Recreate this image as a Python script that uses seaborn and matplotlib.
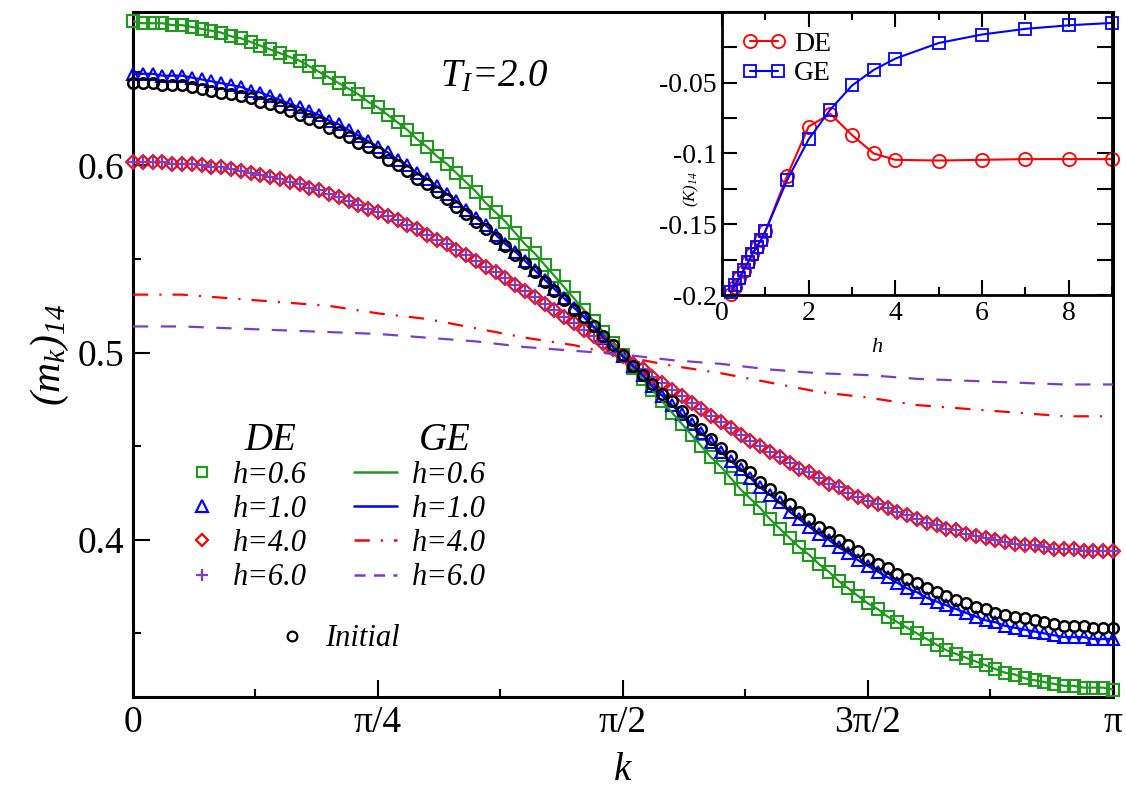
#!/usr/bin/env python
''' Magnetisation profile (m_k)_14 for DE and GE after the quench, T_I=2.0,
with the inset of (K)_14 against h.
'''

import numpy as np
import matplotlib
matplotlib.use('Agg')
import matplotlib.pyplot as plt
from matplotlib.lines import Line2D
from matplotlib.ticker import FixedLocator, FixedFormatter, MultipleLocator
import seaborn as sns

# ---- main panel data ----
k_de = np.linspace(0, np.pi, 101)
k_ge = np.linspace(0, np.pi, 21)

de_h06 = [0.677, 0.676, 0.676, 0.676, 0.675, 0.675, 0.674, 0.673, 0.672, 0.671,
          0.669, 0.668, 0.666, 0.664, 0.662, 0.660, 0.658, 0.656, 0.653, 0.650,
          0.647, 0.644, 0.641, 0.638, 0.634, 0.631, 0.627, 0.623, 0.619, 0.614,
          0.610, 0.605, 0.601, 0.596, 0.591, 0.586, 0.580, 0.575, 0.570, 0.564,
          0.558, 0.553, 0.547, 0.541, 0.535, 0.529, 0.523, 0.517, 0.511, 0.505,
          0.499,
          0.492, 0.486, 0.480, 0.474, 0.468, 0.462, 0.456, 0.450, 0.444, 0.439,
          0.433, 0.427, 0.422, 0.417, 0.411, 0.406, 0.401, 0.396, 0.392, 0.387,
          0.383, 0.378, 0.374, 0.370, 0.366, 0.363, 0.359, 0.356, 0.353, 0.350,
          0.347, 0.344, 0.341, 0.339, 0.337, 0.335, 0.333, 0.331, 0.329, 0.328,
          0.326, 0.325, 0.324, 0.323, 0.322, 0.322, 0.321, 0.321, 0.321, 0.320]

de_h10 = [0.649, 0.649, 0.649, 0.648, 0.648, 0.648, 0.647, 0.646, 0.645, 0.644,
          0.643, 0.642, 0.640, 0.639, 0.637, 0.635, 0.633, 0.631, 0.629, 0.627,
          0.624, 0.622, 0.619, 0.616, 0.613, 0.610, 0.607, 0.603, 0.600, 0.596,
          0.593, 0.589, 0.585, 0.581, 0.576, 0.572, 0.568, 0.563, 0.558, 0.554,
          0.549, 0.544, 0.539, 0.534, 0.529, 0.524, 0.519, 0.514, 0.508, 0.503,
          0.498,
          0.493, 0.488, 0.482, 0.477, 0.472, 0.467, 0.462, 0.457, 0.452, 0.447,
          0.442, 0.438, 0.433, 0.428, 0.424, 0.420, 0.415, 0.411, 0.407, 0.403,
          0.400, 0.396, 0.393, 0.389, 0.386, 0.383, 0.380, 0.377, 0.374, 0.372,
          0.369, 0.367, 0.365, 0.363, 0.361, 0.359, 0.357, 0.356, 0.354, 0.353,
          0.352, 0.351, 0.350, 0.349, 0.348, 0.348, 0.348, 0.347, 0.347, 0.347]

de_h40 = [0.602, 0.602, 0.602, 0.602, 0.601, 0.601, 0.601, 0.600, 0.599, 0.599,
          0.598, 0.597, 0.596, 0.595, 0.594, 0.593, 0.591, 0.590, 0.588, 0.587,
          0.585, 0.583, 0.581, 0.579, 0.577, 0.575, 0.573, 0.571, 0.568, 0.566,
          0.563, 0.560, 0.558, 0.555, 0.552, 0.549, 0.546, 0.543, 0.540, 0.536,
          0.533, 0.530, 0.526, 0.523, 0.519, 0.516, 0.512, 0.509, 0.505, 0.502,
          0.498,
          0.494, 0.491, 0.487, 0.484, 0.480, 0.477, 0.473, 0.470, 0.466, 0.463,
          0.460, 0.456, 0.453, 0.450, 0.447, 0.444, 0.441, 0.438, 0.436, 0.433,
          0.430, 0.428, 0.425, 0.423, 0.421, 0.419, 0.417, 0.415, 0.413, 0.411,
          0.409, 0.408, 0.406, 0.405, 0.403, 0.402, 0.401, 0.400, 0.399, 0.398,
          0.397, 0.397, 0.396, 0.395, 0.395, 0.395, 0.394, 0.394, 0.394, 0.394]

# the h=6.0 DE points lie right on top of the h=4.0 ones
de_h60 = list(de_h40)

initial = [0.644, 0.644, 0.644, 0.643, 0.643, 0.643, 0.642, 0.641, 0.640, 0.639,
           0.638, 0.637, 0.636, 0.634, 0.633, 0.631, 0.629, 0.627, 0.625, 0.623,
           0.620, 0.618, 0.615, 0.612, 0.610, 0.607, 0.603, 0.600, 0.597, 0.593,
           0.590, 0.586, 0.582, 0.578, 0.574, 0.570, 0.566, 0.561, 0.557, 0.552,
           0.548, 0.543, 0.538, 0.533, 0.528, 0.523, 0.519, 0.514, 0.509, 0.504,
           0.499,
           0.493, 0.488, 0.483, 0.478, 0.474, 0.469, 0.464, 0.459, 0.454, 0.449,
           0.445, 0.440, 0.436, 0.431, 0.427, 0.423, 0.419, 0.415, 0.411, 0.407,
           0.404, 0.400, 0.397, 0.394, 0.390, 0.387, 0.385, 0.382, 0.379, 0.377,
           0.374, 0.372, 0.370, 0.368, 0.366, 0.364, 0.363, 0.361, 0.360, 0.359,
           0.358, 0.357, 0.356, 0.355, 0.354, 0.354, 0.354, 0.353, 0.353, 0.353]

# GE lines for h=0.6 and h=1.0 run under the DE markers
ge_h06 = de_h06
ge_h10 = de_h10
ge_h40 = [0.531, 0.531, 0.529, 0.527, 0.525, 0.521, 0.518, 0.513, 0.508, 0.504,
          0.498, 0.493, 0.489, 0.484, 0.479, 0.476, 0.472, 0.470, 0.468, 0.466,
          0.466]
ge_h60 = [0.514, 0.514, 0.513, 0.512, 0.511, 0.510, 0.508, 0.506, 0.503, 0.501,
          0.499, 0.496, 0.494, 0.491, 0.489, 0.488, 0.486, 0.485, 0.484, 0.483,
          0.483]

k_ticks = [0, np.pi / 4, np.pi / 2, 3 * np.pi / 4, np.pi]
k_ticklabels = ['0', 'π/4', 'π/2', '3π/2', 'π']
h_labels = ['h=0.6', 'h=1.0', 'h=4.0', 'h=6.0']

# ---- inset data ----
h_in = [0.2, 0.3, 0.4, 0.5, 0.6, 0.7, 0.8, 0.9, 1.0, 1.5,
        2.0, 2.5, 3.0, 3.5, 4.0, 5.0, 6.0, 7.0, 8.0, 9.0]
k14_de = [-0.199, -0.194, -0.188, -0.183, -0.177, -0.171, -0.166, -0.161, -0.155, -0.116,
          -0.081, -0.072, -0.087, -0.100, -0.1045, -0.105, -0.1045, -0.104, -0.104, -0.104]
k14_ge = [-0.198, -0.193, -0.188, -0.182, -0.177, -0.171, -0.166, -0.161, -0.155, -0.119,
          -0.090, -0.069, -0.052, -0.041, -0.033, -0.022, -0.016, -0.012, -0.0095, -0.0078]

GREEN = '#1f9a1f'
BLUE = '#0000ff'
RED = '#ff0000'
PURPLE = '#7d3cc8'


def main():
    sns.set_theme(style='ticks', rc={'axes.edgecolor': 'black',
                                     'xtick.color': 'black',
                                     'ytick.color': 'black',
                                     'text.color': 'black',
                                     'axes.labelcolor': 'black'})
    plt.rcParams['font.family'] = ['Liberation Serif', 'DejaVu Serif']
    plt.rcParams['mathtext.fontset'] = 'custom'
    plt.rcParams['mathtext.rm'] = 'Liberation Serif:italic'
    plt.rcParams['mathtext.it'] = 'Liberation Serif:italic'
    plt.rcParams['lines.scale_dashes'] = False

    fig = plt.figure(figsize=(11.26, 7.91), dpi=100)
    ax = fig.add_axes([0.1181, 0.1188, 0.8703, 0.866])
    make_main(ax)
    axin = fig.add_axes([0.6412, 0.627, 0.3464, 0.358])
    make_inset(axin)

    fig.savefig('out.png', dpi=100)


def markers(ax, y, marker, color, ms, mew=1.5, z=3):
    sns.lineplot(x=k_de, y=y, ax=ax, estimator=None, sort=False,
                 linestyle='none', marker=marker, markersize=ms,
                 markerfacecolor='none', markeredgecolor=color,
                 markeredgewidth=mew, color=color, clip_on=False, zorder=z)


def make_main(ax):
    markers(ax, de_h06, 's', GREEN, 8.5)
    markers(ax, de_h10, '^', BLUE, 9.0)
    markers(ax, de_h40, 'D', RED, 7.3)
    markers(ax, de_h60, '+', PURPLE, 9.5)

    sns.lineplot(x=k_de, y=ge_h06, ax=ax, estimator=None, sort=False,
                 color=GREEN, lw=1.6, zorder=4)
    sns.lineplot(x=k_de, y=ge_h10, ax=ax, estimator=None, sort=False,
                 color=BLUE, lw=1.6, zorder=4)
    sns.lineplot(x=k_ge, y=ge_h40, ax=ax, estimator=None, sort=False,
                 color=RED, lw=1.6, dashes=(11, 8, 1.5, 8), zorder=4)
    sns.lineplot(x=k_ge, y=ge_h60, ax=ax, estimator=None, sort=False,
                 color=PURPLE, lw=1.6, dashes=(11, 9), zorder=4)

    markers(ax, initial, 'o', 'black', 7.6, mew=1.8, z=5)

    ax.set_xlim(0, np.pi)
    ax.set_ylim(0.316, 0.682)
    ax.xaxis.set_major_locator(FixedLocator(k_ticks))
    ax.xaxis.set_major_formatter(FixedFormatter(k_ticklabels))
    ax.xaxis.set_minor_locator(MultipleLocator(np.pi / 8))
    ax.yaxis.set_major_locator(FixedLocator([0.4, 0.5, 0.6]))
    ax.yaxis.set_major_formatter(FixedFormatter(['0.4', '0.5', '0.6']))
    ax.yaxis.set_minor_locator(MultipleLocator(0.05))
    ax.tick_params(which='both', direction='in', top=False, right=False,
                   width=1.5, labelsize=27)
    ax.tick_params(which='major', length=12, pad=6)
    ax.tick_params(which='minor', length=6)
    for sp in ax.spines.values():
        sp.set_linewidth(2.2)

    ax.set_xlabel('k', fontsize=28, style='italic')
    ax.xaxis.set_label_coords(0.5, -0.08)
    ax.set_ylabel(r'$(m_k)_{14}$', fontsize=30)
    ax.yaxis.set_label_coords(-0.063, 0.5)

    ax.text(0.313, 0.905, r'$T_I$=2.0', transform=ax.transAxes,
            fontsize=28, style='italic', ha='left', va='center')

    # column headers of the hand-made legend
    ax.text(0.140, 0.375, 'DE', transform=ax.transAxes, fontsize=28,
            style='italic', ha='center', va='center')
    ax.text(0.318, 0.375, 'GE', transform=ax.transAxes, fontsize=28,
            style='italic', ha='center', va='center')

    # legends: DE markers, GE lines, initial state
    de_handles = [
        Line2D([], [], ls='none', marker='s', ms=7.5, mfc='none', mec=GREEN, mew=1.6),
        Line2D([], [], ls='none', marker='^', ms=8, mfc='none', mec=BLUE, mew=1.6),
        Line2D([], [], ls='none', marker='D', ms=6.5, mfc='none', mec=RED, mew=1.6),
        Line2D([], [], ls='none', marker='+', ms=9, mec=PURPLE, mew=1.6),
    ]
    ge_handles = [
        Line2D([], [], color=GREEN, lw=1.8),
        Line2D([], [], color=BLUE, lw=1.8),
        Line2D([], [], color=RED, lw=1.8, dashes=(11, 8, 1.5, 8)),
        Line2D([], [], color=PURPLE, lw=1.8, dashes=(8, 6)),
    ]
    ini_handle = [Line2D([], [], ls='none', marker='o', ms=7, mfc='none',
                         mec='black', mew=1.6)]
    prop = {'style': 'italic', 'size': 22}

    leg1 = ax.legend(handles=de_handles, labels=h_labels,
                     loc='center', bbox_to_anchor=(0.118, 0.249),
                     frameon=False, prop=prop,
                     handlelength=0.8, handletextpad=0.6, labelspacing=0.17,
                     borderpad=0)
    ax.add_artist(leg1)
    leg2 = ax.legend(handles=ge_handles, labels=h_labels,
                     loc='center', bbox_to_anchor=(0.293, 0.249),
                     frameon=False, prop=prop,
                     handlelength=1.4, handletextpad=0.5, labelspacing=0.17,
                     borderpad=0)
    ax.add_artist(leg2)
    ax.legend(handles=ini_handle, labels=['Initial'], loc='center',
              bbox_to_anchor=(0.211, 0.085), frameon=False, prop=prop,
              handlelength=0.8, handletextpad=0.7, borderpad=0)


def make_inset(axin):
    sns.lineplot(x=h_in, y=k14_de, ax=axin, estimator=None, sort=False,
                 color=RED, lw=1.5, marker='o', markersize=9.5,
                 markerfacecolor='none', markeredgecolor=RED,
                 markeredgewidth=1.3, clip_on=False, label='DE')
    sns.lineplot(x=h_in, y=k14_ge, ax=axin, estimator=None, sort=False,
                 color=BLUE, lw=1.5, marker='s', markersize=8,
                 markerfacecolor='none', markeredgecolor=BLUE,
                 markeredgewidth=1.3, clip_on=False, label='GE')

    axin.set_xlim(0, 9)
    axin.set_ylim(-0.2, 0.0)
    axin.xaxis.set_major_locator(FixedLocator([0, 2, 4, 6, 8]))
    axin.xaxis.set_minor_locator(MultipleLocator(1))
    axin.yaxis.set_major_locator(FixedLocator([-0.2, -0.15, -0.1, -0.05]))
    axin.yaxis.set_major_formatter(FixedFormatter(['-0.2', '-0.15', '-0.1', '-0.05']))
    axin.yaxis.set_minor_locator(FixedLocator([-0.175, -0.125, -0.075, -0.025]))
    axin.tick_params(which='both', direction='in', top=True, right=True,
                     width=1.5, labelsize=20, pad=4)
    axin.tick_params(axis='x', which='major', length=11)
    axin.tick_params(axis='x', which='minor', length=6)
    axin.tick_params(axis='y', which='both', length=11)
    for sp in axin.spines.values():
        sp.set_linewidth(2.0)

    axin.set_xlabel('h', fontsize=16, style='italic')
    axin.xaxis.set_label_coords(0.397, -0.15)
    axin.set_ylabel(r'$(K)_{14}$', fontsize=12)
    axin.yaxis.set_label_coords(-0.055, 0.375)

    axin.legend(loc='upper left', frameon=False, numpoints=2, fontsize=20,
                handlelength=1.6, handletextpad=0.3, labelspacing=0.15,
                borderaxespad=0.5, borderpad=0.2)


if __name__ == '__main__':
    main()
